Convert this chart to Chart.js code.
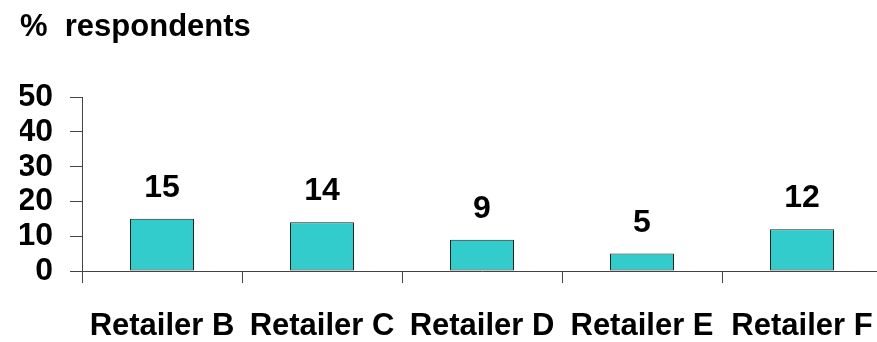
<!DOCTYPE html>
<html>
<head>
<meta charset="utf-8">
<script src="https://cdn.jsdelivr.net/npm/chart.js@4/dist/chart.umd.min.js"></script>
<style>
  html, body { margin: 0; padding: 0; background: #fff; overflow: hidden; }
  #wrap { position: relative; width: 882px; height: 342px; }
</style>
</head>
<body>
<div id="wrap"><canvas id="chart" width="882" height="342"></canvas></div>
<script>
const retailers = ['Retailer B', 'Retailer C', 'Retailer D', 'Retailer E', 'Retailer F'];
const respondents = [15, 14, 9, 5, 12];
const yTicks = [0, 10, 20, 30, 40, 50];

const FONT = 'Liberation Sans, Arial, sans-serif';

// numbers over the bars
const valueLabels = {
  id: 'valueLabels',
  afterDatasetsDraw(chart) {
    const ctx = chart.ctx;
    const meta = chart.getDatasetMeta(0);
    ctx.save();
    ctx.font = 'bold 32px ' + FONT;
    ctx.fillStyle = '#000';
    ctx.textAlign = 'center';
    ctx.textBaseline = 'alphabetic';
    meta.data.forEach((bar, i) => {
      ctx.fillText(String(respondents[i]), bar.x, bar.y - 22);
    });
    ctx.restore();
  }
};

const ctx = document.getElementById('chart').getContext('2d');
new Chart(ctx, {
  type: 'bar',
  data: {
    labels: retailers,
    datasets: [{
      data: respondents,
      backgroundColor: '#33CCCC',
      borderColor: '#222222',
      borderWidth: 1,
      borderSkipped: false,
      barPercentage: 0.4,
      categoryPercentage: 1
    }]
  },
  options: {
    responsive: false,
    animation: false,
    layout: { padding: { left: 20, right: 0, top: 0, bottom: 0 } },
    plugins: {
      legend: { display: false },
      tooltip: { enabled: false },
      title: {
        display: true,
        text: '%  respondents',
        align: 'start',
        color: '#000',
        font: { family: FONT, size: 31, weight: 'bold', lineHeight: 1.2 },
        padding: { top: 9, bottom: 51 }
      }
    },
    scales: {
      x: {
        grid: { display: true, drawOnChartArea: false, tickLength: 12, color: '#444', offset: true },
        border: { color: '#444', width: 1 },
        ticks: {
          color: '#000',
          padding: 25,
          maxRotation: 0,
          autoSkip: false,
          font: { family: FONT, size: 31, weight: 'bold' }
        },
        afterFit(scale) {
          scale.height = 71;
          scale.paddingLeft = 0;
          scale.paddingRight = 0;
        }
      },
      y: {
        min: 0,
        max: 50,
        afterBuildTicks(scale) { scale.ticks = yTicks.map(v => ({ value: v })); },
        grid: { display: true, drawOnChartArea: false, tickLength: 12, color: '#444' },
        border: { color: '#444', width: 1 },
        ticks: {
          color: '#000',
          padding: 17,
          autoSkip: false,
          font: { family: FONT, size: 32, weight: 'bold' }
        },
        afterFit(scale) {
          scale.width = 62;
          scale.paddingTop = 0;
          scale.paddingBottom = 0;
        }
      }
    }
  },
  plugins: [valueLabels]
});
</script>
</body>
</html>
